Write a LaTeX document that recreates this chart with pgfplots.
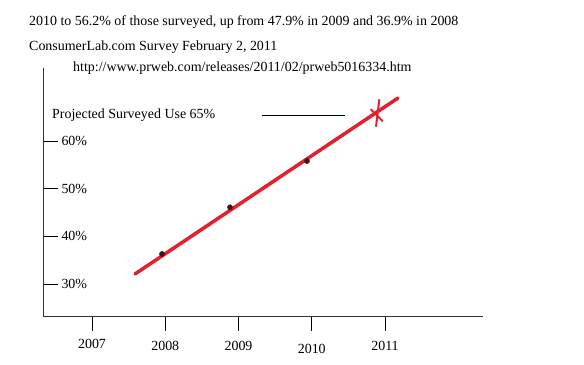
\documentclass[border=0pt]{standalone}
\usepackage{fontspec}
\setmainfont{Liberation Serif}
\usepackage{pgfplots}
\pgfplotsset{compat=1.18}
\definecolor{lred}{RGB}{226,32,46}
\definecolor{dotc}{RGB}{70,20,22}
\begin{document}
\begin{tikzpicture}
\useasboundingbox[fill=white] (0bp,0bp) rectangle (584bp,365bp);
\begin{axis}[
  at={(43bp,49bp)}, anchor=south west,
  width=440bp, height=248bp, scale only axis,
  xmin=2006.331, xmax=2012.338, ymin=23.29, ymax=75.31,
  axis x line*=bottom, axis y line*=left,
  axis line style={black!80, line width=0.9bp},
  xtick={2007,2008,2009,2010,2011},
  xticklabels={\raisebox{2.5bp}[\height][\depth]{2007},2008,2009,\raisebox{-2.5bp}[\height][\depth]{2010},2011},
  ytick={30,40,50,60},
  yticklabels={30\%,40\%,50\%,60\%},
  xtick align=outside, ytick align=inside,
  major tick length=15bp,
  tick style={black, line width=0.8bp},
  ticklabel style={font=\fontsize{14}{16}\selectfont},
  /pgf/number format/assume math mode=true,
  yticklabel style={anchor=west, xshift=15bp},
  xticklabel style={yshift=-7bp},
  clip=false,
]
\addplot[black, line width=0.9bp] coordinates {(2009.321,65.45) (2010.454,65.45)};
\addplot[only marks, mark=*, mark size=2.6bp, draw=dotc, fill=dotc] coordinates {(2007.956,36.3) (2008.884,46.1) (2009.935,55.8)};
\addplot[lred, line width=3.5bp, line cap=round] coordinates {(2007.587,32.10) (2011.178,69.02)};
\addplot[only marks, mark=|, mark size=13.8bp, lred, mark options={line width=2bp, rotate=-7}] coordinates {(2010.900,65.87)};
\addplot[only marks, mark=-, mark size=8.6bp, lred, mark options={line width=2bp, rotate=-45}] coordinates {(2010.887,65.40)};
\end{axis}
\begin{scope}[every node/.style={anchor=west, inner sep=0pt, font=\fontsize{14}{16}\selectfont}]
\node at (29bp,343bp) {2010 to 56.2\% of those surveyed, up from 47.9\% in 2009 and 36.9\% in 2008};
\node at (29bp,318bp) {ConsumerLab.com Survey February 2, 2011};
\node at (73bp,297bp) {http://www.prweb.com/releases/2011/02/prweb5016334.htm};
\node at (52bp,250bp) {Projected Surveyed Use 65\%};
\end{scope}
\end{tikzpicture}
\end{document}
